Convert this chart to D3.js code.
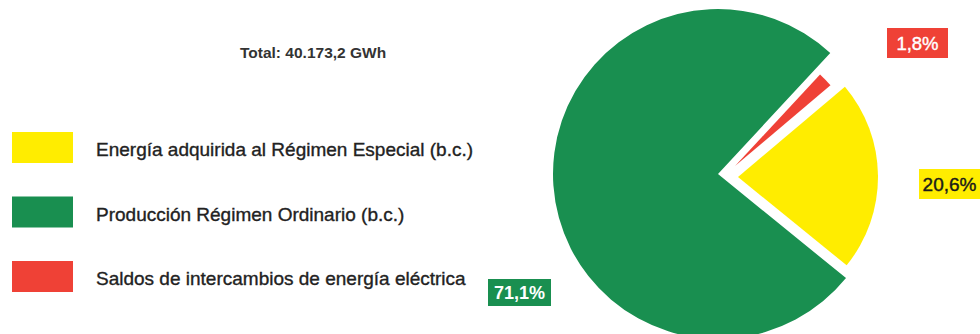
<!DOCTYPE html>
<html><head><meta charset="utf-8">
<script src="https://cdn.jsdelivr.net/npm/d3@7"></script>
<style>
html,body{margin:0;padding:0;background:#fff;}
svg{display:block;font-family:"Liberation Sans",Arial,Helvetica,sans-serif;}
</style></head>
<body>
<svg id="chart" width="980" height="334"></svg>
<script>
// Data
const categories = [
  "Energía adquirida al Régimen Especial (b.c.)",
  "Producción Régimen Ordinario (b.c.)",
  "Saldos de intercambios de energía eléctrica"
];
const values = [20.6, 71.1, 1.8];
const valueLabels = ["20,6%", "71,1%", "1,8%"];
const totalLabel = "Total: 40.173,2 GWh";

// Styles / layout
const colors = ["#ffed00", "#198f50", "#ef4136"];
const labelTextColors = ["#1a1a1a", "#ffffff", "#ffffff"];
const labelFontSize = [19, 18, 18.5];
const labelWeight = ["normal", "bold", "normal"];
const sliceRadius = [140, 165, 125];
const sliceOffset = [[20, 3], [0, 0], [17, -8]];
const labelBoxes = [[919, 169, 61, 30], [488, 279, 63, 27], [887, 28, 61, 30]];
const center = [718, 174];

const svg = d3.select("#chart");

const pie = d3.pie().sort(null)
  .startAngle(49.8 * Math.PI / 180)
  .endAngle(49.8 * Math.PI / 180 + 2 * Math.PI);
const arcs = pie(values);

const g = svg.append("g").attr("transform", `translate(${center[0]},${center[1]})`);
g.selectAll("path").data(arcs).join("path")
  .attr("transform", (d, i) => `translate(${sliceOffset[i][0]},${sliceOffset[i][1]})`)
  .attr("d", (d, i) => d3.arc().innerRadius(0).outerRadius(sliceRadius[i])(d))
  .attr("fill", (d, i) => colors[i]);

// Value label boxes
const lb = svg.append("g").selectAll("g").data(valueLabels).join("g");
lb.append("rect")
  .attr("x", (d, i) => labelBoxes[i][0]).attr("y", (d, i) => labelBoxes[i][1])
  .attr("width", (d, i) => labelBoxes[i][2]).attr("height", (d, i) => labelBoxes[i][3])
  .attr("fill", (d, i) => colors[i]);
lb.append("text")
  .attr("x", (d, i) => labelBoxes[i][0] + labelBoxes[i][2] / 2)
  .attr("y", (d, i) => labelBoxes[i][1] + labelBoxes[i][3] / 2 + 6.5)
  .attr("text-anchor", "middle")
  .attr("font-size", (d, i) => labelFontSize[i])
  .attr("font-weight", (d, i) => labelWeight[i])
  .attr("fill", (d, i) => labelTextColors[i])
  .attr("stroke", (d, i) => labelTextColors[i])
  .attr("stroke-width", (d, i) => i === 1 ? 0 : 0.4)
  .text(d => d);

// Total
svg.append("text").attr("x", 240).attr("y", 58)
  .attr("font-size", 15.5).attr("font-weight", "bold").attr("fill", "#333")
  .text(totalLabel);

// Legend
const legend = svg.append("g").selectAll("g").data(categories).join("g")
  .attr("transform", (d, i) => `translate(12,${132 + i * 64.5})`);
legend.append("rect").attr("width", 61).attr("height", 31).attr("fill", (d, i) => colors[i]);
legend.append("text").attr("x", 84).attr("y", 24)
  .attr("font-size", 19).attr("fill", "#222").attr("stroke", "#222").attr("stroke-width", 0.35)
  .text(d => d);
</script>
</body></html>
